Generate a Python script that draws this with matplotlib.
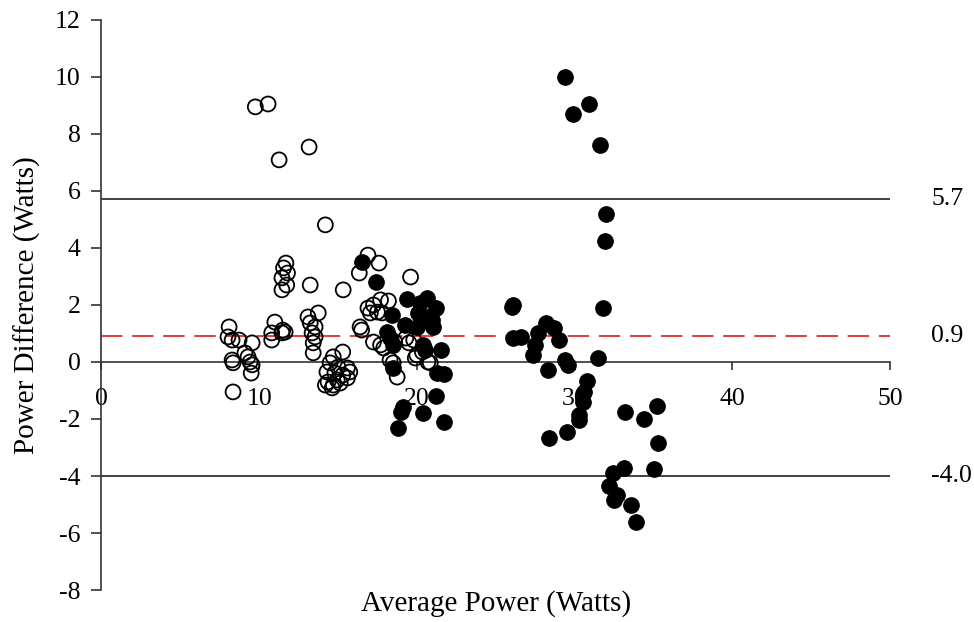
import matplotlib.pyplot as plt

plt.rcParams['font.family'] = ['Liberation Serif', 'DejaVu Serif']
plt.rcParams['axes.unicode_minus'] = False

# Bland-Altman data: average power vs. power difference (Watts)
open_x = [9.76, 10.57, 11.27, 13.17, 14.2,
          11.7, 11.55, 11.8, 11.45, 11.75, 11.45,
          13.24, 15.33, 16.9, 17.6, 16.35, 19.6,
          8.1, 8.03, 8.29, 8.73, 9.56, 8.29, 8.35, 9.1, 9.3, 9.43, 9.56, 9.5, 8.35,
          11.0, 11.5, 10.8, 11.45, 10.8, 11.65,
          13.1, 13.75, 13.24, 13.55, 13.36, 13.55, 13.43, 13.43,
          15.3, 14.7, 14.5, 15.0, 15.6, 14.3, 14.8, 15.3, 15.75, 14.37, 14.7, 15.14,
          14.2, 14.63, 14.95, 15.6,
          16.4, 16.5, 17.25,
          16.9, 17.25, 17.7, 18.2, 17.5, 17.8, 17.05,
          17.7, 17.9, 18.6, 19.3, 19.5, 19.8,
          18.3, 18.5, 18.75, 19.9, 20.7, 20.35, 20.0, 20.85]
open_y = [8.95, 9.05, 7.09, 7.54, 4.81,
          3.47, 3.3, 3.12, 2.95, 2.7, 2.53,
          2.7, 2.53, 3.75, 3.47, 3.12, 2.98,
          1.23, 0.88, 0.77, 0.77, 0.67, 0.07, -0.03, 0.32, 0.18, 0.0, -0.1, -0.39, -1.05,
          1.4, 1.12, 1.02, 1.02, 0.77, 1.05,
          1.58, 1.72, 1.37, 1.23, 1.02, 0.88, 0.67, 0.32,
          0.35, 0.18, -0.03, -0.18, -0.21, -0.35, -0.39, -0.46, -0.35, -0.7, -0.81, -0.74,
          -0.81, -0.91, -0.63, -0.56,
          1.23, 1.12, 0.7,
          1.89, 2.0, 2.18, 2.14, 1.75, 1.72, 1.72,
          0.6, 0.49, 0.7, 0.84, 0.67, 0.77,
          0.07, -0.03, -0.53, 0.14, 0.0, 0.35, 0.25, -0.03]

filled_x = [16.5, 17.4, 19.4, 20.67, 20.2, 21.2, 20.1, 20.67, 21.05, 20.03, 19.27,
            18.45, 18.1, 18.3, 18.5, 20.5, 21.5, 20.4, 18.5, 21.3, 21.7, 21.2,
            19.15, 19.0, 20.4, 18.8, 21.7, 20.35, 20.98,
            26.1, 26.0, 26.1, 26.6, 28.2, 28.7, 27.7, 27.5, 27.35, 29.0, 28.3,
            29.4, 29.55, 31.45,
            30.8, 30.6, 30.5, 30.3, 30.25, 29.5, 28.35,
            33.2, 34.4, 35.2, 35.3,
            33.1, 35.0, 32.4, 32.2, 32.7, 32.5, 33.6, 33.9,
            29.4, 29.9, 30.9, 31.6, 32.0, 31.9, 31.8]
filled_y = [3.5, 2.8, 2.2, 2.25, 2.07, 1.9, 1.72, 1.58, 1.23, 1.23, 1.3,
            1.65, 1.05, 0.84, 0.6, 0.42, 0.42, 0.6, -0.21, -0.39, -0.42, -1.19,
            -1.58, -1.75, -1.79, -2.32, -2.1, 1.47, 1.47,
            2.0, 1.93, 0.84, 0.88, 1.37, 1.19, 1.02, 0.6, 0.25, 0.77, -0.28,
            0.07, -0.1, 0.14,
            -0.67, -1.05, -1.4, -1.86, -2.03, -2.46, -2.67,
            -1.75, -2.0, -1.54, -2.84,
            -3.72, -3.75, -3.9, -4.35, -4.67, -4.84, -5.02, -5.61,
            10.0, 8.7, 9.05, 7.61, 5.19, 4.25, 1.9]

mean_diff = 0.9
upper_loa = 5.7
lower_loa = -4.0

fig = plt.figure(figsize=(9.74, 6.22), dpi=100)
ax = fig.add_axes([0.104, 0.0514, 0.81, 0.9166])

ax.scatter(filled_x, filled_y, s=125, c='black', edgecolors='black', linewidths=0.8, zorder=3)
ax.scatter(open_x, open_y, s=115, facecolors='none', edgecolors='black', linewidths=1.3, zorder=4)

# limits of agreement and mean bias
ax.plot([0, 50], [upper_loa, upper_loa], color='#222222', lw=1.2, zorder=2)
ax.plot([0, 50], [lower_loa, lower_loa], color='#222222', lw=1.2, zorder=2)
ax.plot([0, 50], [mean_diff, mean_diff], color='#e03c3c', lw=1.4, dashes=(11, 5), zorder=2)

for val in (upper_loa, mean_diff, lower_loa):
    ax.text(52.6, val, f'{val:.1f}', fontsize=18.5, va='center', ha='left', clip_on=False)

ax.set_xlim(0, 50)
ax.set_ylim(-8, 12)
ax.set_xticks(range(0, 51, 10))
ax.set_yticks(range(-8, 13, 2))

ax.spines['top'].set_visible(False)
ax.spines['right'].set_visible(False)
ax.spines['bottom'].set_position(('data', 0))
for side in ('left', 'bottom'):
    ax.spines[side].set_color('#333333')
    ax.spines[side].set_linewidth(1.2)

ax.tick_params(axis='y', direction='out', length=7, width=1.2, color='#333333', labelsize=18.5, pad=8)
ax.tick_params(axis='x', direction='out', length=6, width=1.2, color='#333333', labelsize=18.5, pad=13)

ax.set_xlabel('Average Power (Watts)', fontsize=21)
ax.xaxis.set_label_coords(0.5, -0.0)
ax.xaxis.label.set_va('top')
ax.set_ylabel('Power Difference (Watts)', fontsize=21, labelpad=10)

fig.savefig('out.png', dpi=100)
